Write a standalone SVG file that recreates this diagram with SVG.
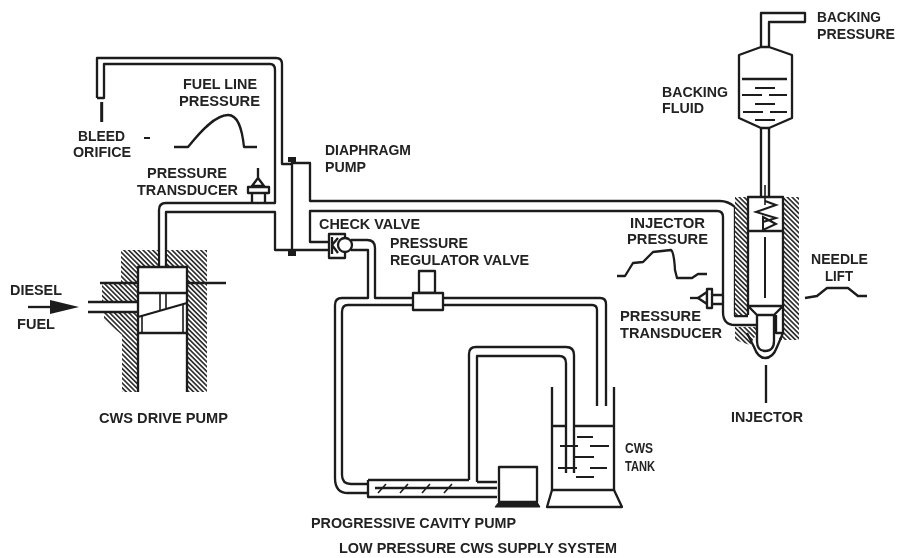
<svg xmlns="http://www.w3.org/2000/svg" width="898" height="558" viewBox="0 0 898 558">
<style>
text{font-family:"Liberation Sans",Arial,sans-serif;font-weight:700;font-size:14px;fill:#222}
.p{fill:none;stroke:#1a1a1a;stroke-width:2.3;stroke-linejoin:round}
.w{fill:#fff;stroke:#1a1a1a;stroke-width:2.3;stroke-linejoin:round}
.t{fill:none;stroke:#1a1a1a;stroke-width:1.6}
.h{fill:url(#hatch);stroke:none}
</style>
<defs>
<pattern id="hatch" width="3.4" height="3.4" patternUnits="userSpaceOnUse" patternTransform="rotate(45)">
<rect width="3.4" height="3.4" fill="#fff"/><rect width="3.4" height="1.7" fill="#333"/>
</pattern>
<filter id="soft" x="0" y="0" width="100%" height="100%"><feGaussianBlur stdDeviation="0.4"/></filter>
</defs>
<rect width="898" height="558" fill="#fff"/>
<g filter="url(#soft)">
<g id="connectors">
<path class="p" d="M97 98V58H276Q282 58 282 64V164H292"/>
<path class="p" d="M97 98H104V64H270Q275 64 275 70V203H166Q159 203 159 210V267"/>
<path class="p" d="M166 267V212H275V250H330"/>
<path class="p" d="M292 163H310V201H720Q728 201 735 207"/>
<path class="p" d="M329 242H310V211H717Q723 211 723 217V312Q723 325 735 325H757"/>
<path class="p" d="M735 207V316H748"/>
<path class="p" d="M351 240H367Q375 240 375 248V298H413"/>
<path class="p" d="M351 250H368V298H342Q335 298 335 305V478Q335 493 348 493H368"/>
<path class="p" d="M413 305H348Q342 305 342 312V475Q342 484 351 484H368"/>
<path class="p" d="M443 298H600Q606 298 606 304V406"/>
<path class="p" d="M443 305H592Q597 305 597 310V406"/>
<path class="p" d="M469 480V354Q469 347 476 347H566Q574 347 574 355V473"/>
<path class="p" d="M477 482V356H559Q566 356 566 363V473"/>
<path class="p" d="M761 128V198M769 128V198"/>
<path class="t" d="M765 185V205"/>
</g>
<g id="bleed-orifice">
<path class="p" d="M101.700 102V122" style="stroke-width:3"/>
<text x="78" y="141" textLength="47" lengthAdjust="spacingAndGlyphs">BLEED</text>
<text x="73" y="157" textLength="58" lengthAdjust="spacingAndGlyphs">ORIFICE</text>
<path class="t" d="M144 138H150" style="stroke-width:2"/>
</g>
<g id="fuel-line-pressure">
<text x="183" y="89" textLength="74" lengthAdjust="spacingAndGlyphs">FUEL LINE</text>
<text x="179" y="106" textLength="81" lengthAdjust="spacingAndGlyphs">PRESSURE</text>
<path class="p" d="M174 147H188C200 132 215 115 228 115C238 115 242 128 244 147H257"/>
</g>
<g id="pressure-transducer-1">
<text x="147" y="178" textLength="80" lengthAdjust="spacingAndGlyphs">PRESSURE</text>
<text x="137" y="195" textLength="101" lengthAdjust="spacingAndGlyphs">TRANSDUCER</text>
<path class="p" d="M258 168V178M258 178L252 186H264Z"/>
<path class="w" d="M248 187H269V193H248Z"/>
<path class="p" d="M252 193V203M265 193V203"/>
</g>
<g id="diaphragm-pump">
<path class="p" d="M292 158V253"/>
<rect x="288" y="157" width="8" height="5" fill="#1a1a1a"/>
<rect x="288" y="250" width="8" height="6" fill="#1a1a1a"/>
<text x="325" y="155" textLength="86" lengthAdjust="spacingAndGlyphs">DIAPHRAGM</text>
<text x="325" y="172" textLength="41" lengthAdjust="spacingAndGlyphs">PUMP</text>
</g>
<g id="check-valve">
<path class="w" d="M329 234H345V258H329Z"/>
<circle class="w" cx="345" cy="245" r="7"/>
<path class="p" d="M332 237V254M338 238L332 245L338 253"/>
<text x="319" y="229" textLength="101" lengthAdjust="spacingAndGlyphs">CHECK VALVE</text>
</g>
<g id="pressure-regulator-valve">
<rect class="w" x="419" y="271" width="16" height="22"/>
<rect class="w" x="413" y="293" width="30" height="17"/>
<text x="390" y="248" textLength="78" lengthAdjust="spacingAndGlyphs">PRESSURE</text>
<text x="390" y="265" textLength="139" lengthAdjust="spacingAndGlyphs">REGULATOR VALVE</text>
</g>
<g id="cws-drive-pump">
<path class="h" d="M121 250H158V267H138V392H122V335L104 320V313H138V302H102V284H121ZM167 250H207V392H187V267H167Z"/>
<path class="p" d="M138 392V267H187V392"/>
<path class="p" d="M100 283H138M187 283H226"/>
<path class="p" d="M88 302H138M88 312H138"/>
<path class="p" d="M138 293H187M138 333H187M138 317L187 303"/>
<path class="t" d="M160 294V310M166 294V308M142 316V332M183 305V332"/>
<text x="99" y="423" textLength="129" lengthAdjust="spacingAndGlyphs">CWS DRIVE PUMP</text>
</g>
<g id="diesel-fuel">
<text x="10" y="295" textLength="52" lengthAdjust="spacingAndGlyphs">DIESEL</text>
<text x="17" y="329" textLength="38" lengthAdjust="spacingAndGlyphs">FUEL</text>
<path class="p" d="M28 307H54"/>
<path d="M50 300L79 307L50 314Z" fill="#1a1a1a"/>
</g>
<g id="progressive-cavity-pump">
<path class="p" d="M368 480H469M368 480V497H497M477 482H497M375 488H497"/>
<path class="t" d="M378 493L386 484M400 493L408 484M422 493L430 484M444 493L452 484"/>
<rect class="w" x="499" y="467" width="38" height="35"/>
<path d="M499 502H537L540 507H495Z" fill="#1a1a1a" stroke="#1a1a1a" stroke-width="1"/>
<text x="311" y="528" textLength="205" lengthAdjust="spacingAndGlyphs">PROGRESSIVE CAVITY PUMP</text>
</g>
<g id="cws-tank">
<path class="p" d="M552 387V490M614 387V490M552 426H566M574 426H614M552 490H614"/>
<path class="p" d="M552 490L547 507H622L614 490"/>
<path class="t" d="M577 437H593M560 446H578M590 446H609M575 457H594M558 468H577M590 468H607M576 477H594" style="stroke-width:2"/>
<text x="625" y="453" textLength="28" lengthAdjust="spacingAndGlyphs">CWS</text>
<text x="625" y="471" textLength="30" lengthAdjust="spacingAndGlyphs">TANK</text>
</g>
<text id="system-title" x="339" y="553" textLength="278" lengthAdjust="spacingAndGlyphs">LOW PRESSURE CWS SUPPLY SYSTEM</text>
<g id="backing-fluid">
<path class="p" d="M761 47V13H805V22H769V47"/>
<path class="w" d="M761 47L739 55V118L761 128H769L792 118V55L769 47Z"/>
<path class="p" d="M742 79H787"/>
<path class="t" d="M755 88H775M742 95H762M769 95H787M755 104H775M743 112H763M770 112H787M755 120H775" style="stroke-width:2"/>
<text x="817" y="22" textLength="64" lengthAdjust="spacingAndGlyphs">BACKING</text>
<text x="817" y="39" textLength="78" lengthAdjust="spacingAndGlyphs">PRESSURE</text>
<text x="662" y="97" textLength="66" lengthAdjust="spacingAndGlyphs">BACKING</text>
<text x="662" y="113" textLength="42" lengthAdjust="spacingAndGlyphs">FLUID</text>
</g>
<g id="injector">
<path class="h" d="M735 197H748V315H735ZM783 197H799V340H778L783 333ZM735 327H757V333L750 345L735 340Z"/>
<path class="p" d="M748 315V197H783V333H776V315"/>
<path class="p" d="M748 231H783M748 306H783M748 306L757 315H774L783 306"/>
<path class="p" d="M757 315V341Q757 351 765 351Q774 351 774 341V315"/>
<path class="p" d="M747 333L754 347Q758 358 765 358Q773 358 777 347L783 333"/>
<path class="t" d="M765 237V298" style="stroke-width:2"/>
<path class="t" d="M765 201L776 205L756 212L776 218L763 222M763 217L776 224L763 230Z" style="stroke-width:2"/>
<path class="p" d="M766 365V403"/>
<text x="731" y="422" textLength="72" lengthAdjust="spacingAndGlyphs">INJECTOR</text>
</g>
<g id="injector-pressure">
<text x="630" y="228" textLength="75" lengthAdjust="spacingAndGlyphs">INJECTOR</text>
<text x="627" y="244" textLength="81" lengthAdjust="spacingAndGlyphs">PRESSURE</text>
<path class="p" d="M617 276H625L633 263L643 262L653 252L671 250Q674 252 675 270L677 278H692L698 274H707"/>
</g>
<g id="pressure-transducer-2">
<path class="p" d="M690 298H700"/>
<path class="w" d="M698 298L707 292V304Z"/>
<path class="w" d="M707 289H712V308H707Z"/>
<path class="p" d="M712 295H723M712 304H723"/>
<text x="620" y="321" textLength="81" lengthAdjust="spacingAndGlyphs">PRESSURE</text>
<text x="620" y="338" textLength="102" lengthAdjust="spacingAndGlyphs">TRANSDUCER</text>
</g>
<g id="needle-lift">
<text x="811" y="264" textLength="57" lengthAdjust="spacingAndGlyphs">NEEDLE</text>
<text x="825" y="281" textLength="28" lengthAdjust="spacingAndGlyphs">LIFT</text>
<path class="p" d="M805 298L817 296L827 288H848L858 296H867"/>
</g>
</g>
</svg>
